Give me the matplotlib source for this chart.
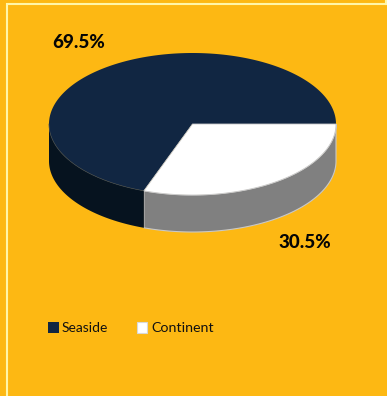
import matplotlib
matplotlib.use('Agg')
import matplotlib.pyplot as plt
from matplotlib.patches import Polygon, Rectangle
import numpy as np

categories = ['Seaside', 'Continent']
shares = [69.5, 30.5]
value_labels = ['69.5%', '30.5%']

BG = '#FDB813'
FRAME = '#FFF6A8'
TOP_COLORS = {'Seaside': '#112642', 'Continent': '#FFFFFF'}
SIDE_COLORS = {'Seaside': '#06131F', 'Continent': '#808080'}

W, H = 387, 396
CX, CY = 192.5, 124    # pie centre, pixels
RX, RY = 143.5, 71     # ellipse radii
DEPTH = 37             # height of the pie wall

plt.rcParams['font.family'] = ['Lato', 'DejaVu Sans']

fig = plt.figure(figsize=(W / 100, H / 100), dpi=100)
fig.patch.set_facecolor(BG)
ax = fig.add_axes([0, 0, 1, 1])
ax.set_xlim(0, W)
ax.set_ylim(H, 0)
ax.axis('off')


def rim(a0, a1, n=200):
    # angles run clockwise on screen from 3 o'clock
    t = np.radians(np.linspace(a0, a1, n))
    return CX + RX * np.cos(t), CY + RY * np.sin(t)


# slices run clockwise from 3 o'clock, Continent first
continent_end = shares[1] / sum(shares) * 360
spans = {'Continent': (0, continent_end), 'Seaside': (continent_end, 360)}

# outer wall, only the front half of the rim shows
for name, (a0, a1) in spans.items():
    a1_vis = min(a1, 180)
    x, y = rim(a0, a1_vis)
    wall = np.r_[np.c_[x, y], np.c_[x[::-1], y[::-1] + DEPTH]]
    ax.add_patch(Polygon(wall, closed=True, fc=SIDE_COLORS[name],
                         ec='#C8C8C8' if name == 'Continent' else 'none',
                         lw=0.8, zorder=2))

# top faces
x, y = rim(*spans['Seaside'], 400)
ax.add_patch(Polygon(np.r_[[[CX, CY]], np.c_[x, y]], closed=True,
                     fc=TOP_COLORS['Seaside'], ec='none', zorder=3))
x, y = rim(*spans['Continent'], 400)
ax.add_patch(Polygon(np.r_[[[CX, CY]], np.c_[x, y]], closed=True,
                     fc=TOP_COLORS['Continent'], ec='#C8C8C8', lw=0.6, zorder=4))

# thin seam where the dark top meets its wall
x, y = rim(continent_end, 180)
ax.plot(x, y, color='#3A4654', lw=0.5, zorder=3)

# frame line along the top and left of the panel
ax.plot([6.7, 6.7, W], [H, 3.6, 3.6], color=FRAME, lw=1.5, zorder=1,
        solid_joinstyle='miter')
ax.plot([386, 386], [0, 3.6], color=FRAME, lw=1.5, zorder=1)

ax.text(79, 43, value_labels[0], fontsize=13.5, fontweight='black',
        color='#050505', ha='center', va='center')
ax.text(305, 242, value_labels[1], fontsize=13.5, fontweight='black',
        color='#050505', ha='center', va='center')

# legend
ax.add_patch(Rectangle((48, 322), 11, 11, fc=TOP_COLORS['Seaside'], ec='none'))
ax.text(62, 327.5, categories[0], fontsize=10, color='#111111', va='center')
ax.add_patch(Rectangle((136.5, 322), 10.5, 10.5, fc=TOP_COLORS['Continent'],
                       ec='#D8D8D8', lw=0.8))
ax.text(151, 327.5, categories[1], fontsize=10.3, color='#111111', va='center')

fig.savefig('out.png', dpi=100, facecolor=BG)
